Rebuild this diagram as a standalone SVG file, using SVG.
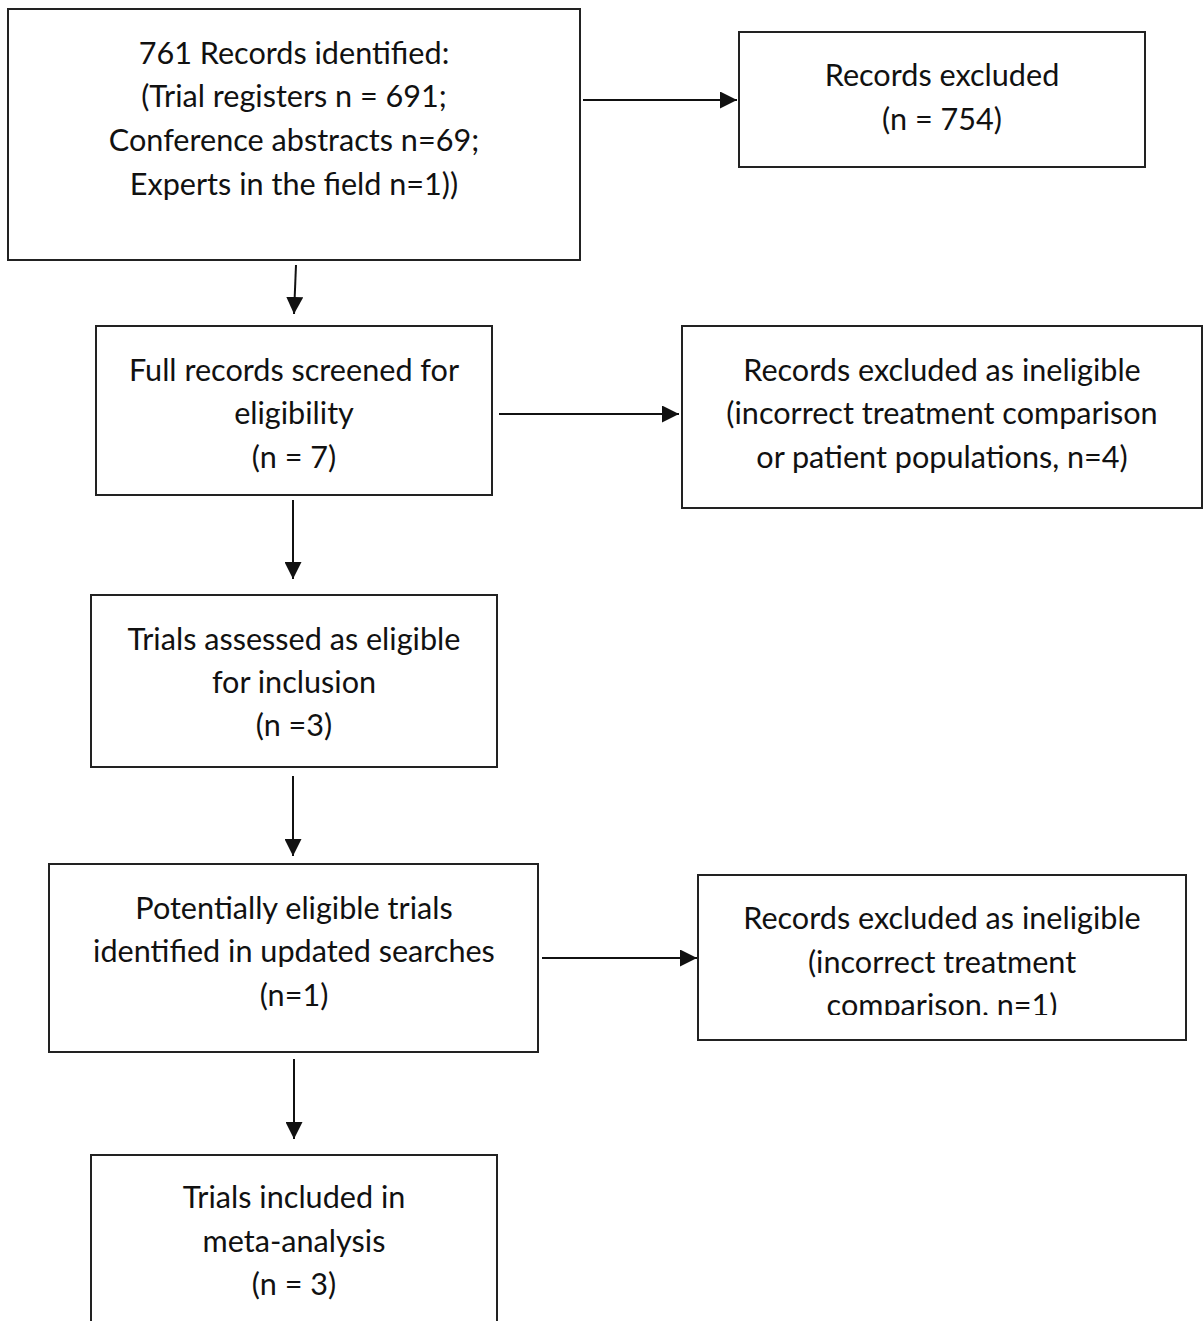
<svg xmlns="http://www.w3.org/2000/svg" width="1203" height="1321" viewBox="0 0 1203 1321">
<style>
.box{fill:#fff;stroke:#222;stroke-width:2}
.t{font-family:Lato,"Liberation Sans",sans-serif;font-size:30.6px;fill:#111;text-anchor:middle}
.c{stroke:#111;stroke-width:2;fill:none;marker-end:url(#ah)}
</style>
<defs>
<marker id="ah" viewBox="0 0 10 10" refX="10" refY="5" markerWidth="17" markerHeight="17" markerUnits="userSpaceOnUse" orient="auto">
<path d="M0,0 L10,5 L0,10 z" fill="#111"/>
</marker>
<clipPath id="clip7"><rect x="698" y="875" width="490" height="140"/></clipPath>
</defs>
<rect width="1203" height="1321" fill="#fff"/>
<g id="connectors">
<line class="c" x1="583" y1="100" x2="737" y2="100"/>
<line class="c" x1="296" y1="265" x2="294" y2="314"/>
<line class="c" x1="499" y1="414" x2="679" y2="414"/>
<line class="c" x1="293" y1="500" x2="293" y2="579"/>
<line class="c" x1="293" y1="776" x2="293" y2="856"/>
<line class="c" x1="542" y1="958" x2="697" y2="958"/>
<line class="c" x1="294" y1="1059" x2="294" y2="1139"/>
</g>
<g id="n1">
<rect class="box" x="8" y="9" width="572" height="251"/>
<text class="t" x="294" y="64">761 Records identified:</text>
<text class="t" x="294" y="107">(Trial registers n = 691;</text>
<text class="t" x="294" y="151">Conference abstracts n=69;</text>
<text class="t" x="294" y="195">Experts in the field n=1))</text>
</g>
<g id="n2">
<rect class="box" x="739" y="32" width="406" height="135"/>
<text class="t" x="942" y="86">Records excluded</text>
<text class="t" x="942" y="130">(n = 754)</text>
</g>
<g id="n3">
<rect class="box" x="96" y="326" width="396" height="169"/>
<text class="t" x="294" y="381">Full records screened for</text>
<text class="t" x="294" y="424">eligibility</text>
<text class="t" x="294" y="468">(n = 7)</text>
</g>
<g id="n4">
<rect class="box" x="682" y="326" width="520" height="182"/>
<text class="t" x="942" y="381">Records excluded as ineligible</text>
<text class="t" x="942" y="424">(incorrect treatment comparison</text>
<text class="t" x="942" y="468">or patient populations, n=4)</text>
</g>
<g id="n5">
<rect class="box" x="91" y="595" width="406" height="172"/>
<text class="t" x="294" y="650">Trials assessed as eligible</text>
<text class="t" x="294" y="693">for inclusion</text>
<text class="t" x="294" y="736">(n =3)</text>
</g>
<g id="n6">
<rect class="box" x="49" y="864" width="489" height="188"/>
<text class="t" x="294" y="919">Potentially eligible trials</text>
<text class="t" x="294" y="962">identified in updated searches</text>
<text class="t" x="294" y="1006">(n=1)</text>
</g>
<g id="n7">
<rect class="box" x="698" y="875" width="488" height="165"/>
<g clip-path="url(#clip7)">
<text class="t" x="942" y="929">Records excluded as ineligible</text>
<text class="t" x="942" y="973">(incorrect treatment</text>
<text class="t" x="942" y="1016">comparison, n=1)</text>
</g>
</g>
<g id="n8">
<rect class="box" x="91" y="1155" width="406" height="175"/>
<text class="t" x="294" y="1208">Trials included in</text>
<text class="t" x="294" y="1252">meta-analysis</text>
<text class="t" x="294" y="1295">(n = 3)</text>
</g>
</svg>
